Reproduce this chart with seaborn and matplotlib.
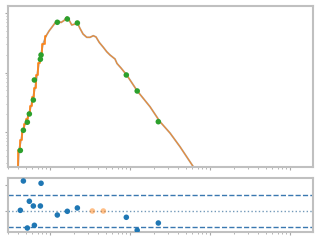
import matplotlib
matplotlib.use("Agg")
import matplotlib.pyplot as plt
import seaborn as sns
import numpy as np
import pandas as pd

# photometric points (wavelength in micron, flux)
phot_wl = [0.425, 0.464, 0.520, 0.551, 0.618, 0.637, 0.757, 0.772, 1.233, 1.645, 2.195, 8.99, 12.3, 22.6]
phot_flux = [0.49e-11, 1.07e-11, 1.46e-11, 2.01e-11, 3.45e-11, 7.48e-11, 16.7e-11, 19.7e-11,
             69.8e-11, 79.3e-11, 67.9e-11, 9.08e-11, 4.89e-11, 1.49e-11]

# residuals
res_wl = [0.425, 0.464, 0.520, 0.551, 0.618, 0.637, 0.757, 0.772, 1.233, 1.645, 2.195, 8.99, 12.3, 22.6]
res_val = [0.13, 5.77, -3.27, 1.87, 0.96, -2.75, 0.96, 5.33, -0.77, -0.06, 0.58, -1.21, -3.71, -2.31]
excl_wl = [3.38, 4.64]
excl_val = [0.0, 0.0]

# model curve (pixel-traced)
model_px = [17, 19, 21, 23, 25, 27, 29, 31, 33, 35, 37, 39, 41, 43, 46, 49, 52, 55, 58, 61, 64, 67, 69,
            71.7, 75, 77.3, 80, 83, 86.7, 90, 93.3, 96, 99.3, 103.3, 106.7, 110, 115, 117, 121, 126.7,
            137.3, 150, 160, 170, 180, 193.3, 200]
model_py = [185, 150, 140, 130, 124, 119, 113, 106, 97, 88, 75, 63, 54, 44, 36, 31, 27, 23, 21, 22.5, 20.5,
            17, 20, 25, 24, 22.7, 28.5, 34, 37.3, 37.3, 35.7, 37, 42.5, 47.3, 51.7, 55, 59, 63.5, 68, 75,
            91, 106.7, 121.7, 133, 146.7, 166.7, 177]
model_wl = [round(10 ** ((p - 50) / 80), 4) for p in model_px]
model_flux = [1e-11 * 10 ** ((132 - q) / 59.5) for q in model_py]
n_steep = 15

sns.set_style("white")
plt.rcParams.update({
    "axes.edgecolor": "#c0c0c0",
    "axes.linewidth": 1.5,
    "xtick.color": "#a8a8a8",
    "ytick.color": "#a8a8a8",
    "xtick.major.size": 2.5,
    "xtick.minor.size": 1.5,
    "ytick.major.size": 2.5,
    "ytick.minor.size": 1.5,
    "xtick.bottom": True,
    "ytick.left": True,
})

fig = plt.figure(figsize=(3.2, 2.4), dpi=100)
ax1 = fig.add_axes([0.025, 0.3054, 0.953, 0.6696])
ax2 = fig.add_axes([0.025, 0.0346, 0.953, 0.225])

dfm = pd.DataFrame({"wl": model_wl, "flux": model_flux})
sns.lineplot(data=dfm, x="wl", y="flux", ax=ax1, color="#a89888", lw=1.3, alpha=0.85, sort=False)
ax1.plot(model_wl[:n_steep], model_flux[:n_steep], drawstyle="steps-mid", color="tab:orange", lw=1.2, alpha=0.95)
ax1.plot(model_wl[n_steep - 1:], model_flux[n_steep - 1:], color="tab:orange", lw=0.7, alpha=0.75)
dfp = pd.DataFrame({"wl": phot_wl, "flux": phot_flux})
sns.scatterplot(data=dfp, x="wl", y="flux", ax=ax1, color="tab:green", s=16, edgecolor="none", zorder=5)

ax1.set_xscale("log")
ax1.set_yscale("log")
ax1.set_xlim(0.298, 1940)
ax1.set_ylim(1e-11 * 10 ** (-34.7 / 59.5), 1e-11 * 10 ** (126 / 59.5))

dfr = pd.DataFrame({"wl": res_wl, "r": res_val})
sns.scatterplot(data=dfr, x="wl", y="r", ax=ax2, color="tab:blue", s=16, edgecolor="none", zorder=5)
dfe = pd.DataFrame({"wl": excl_wl, "r": excl_val})
sns.scatterplot(data=dfe, x="wl", y="r", ax=ax2, color="tab:orange", s=16, edgecolor="none", alpha=0.5, zorder=5)
ax2.axhline(3, color="#3a78b0", ls="--", lw=1.0)
ax2.axhline(-3, color="#3a78b0", ls="--", lw=1.0)
ax2.axhline(0, color="#5080a8", ls=":", lw=1.0, alpha=0.8)
ax2.set_xscale("log")
ax2.set_xlim(0.298, 1940)
ax2.set_ylim(-3.98, 6.4)
ax2.set_yticks([0, 5])

for ax in (ax1, ax2):
    ax.set_xlabel("")
    ax.set_ylabel("")
    ax.tick_params(which="both", labelbottom=False, labelleft=False, direction="out")

fig.savefig("out.png", dpi=100)
